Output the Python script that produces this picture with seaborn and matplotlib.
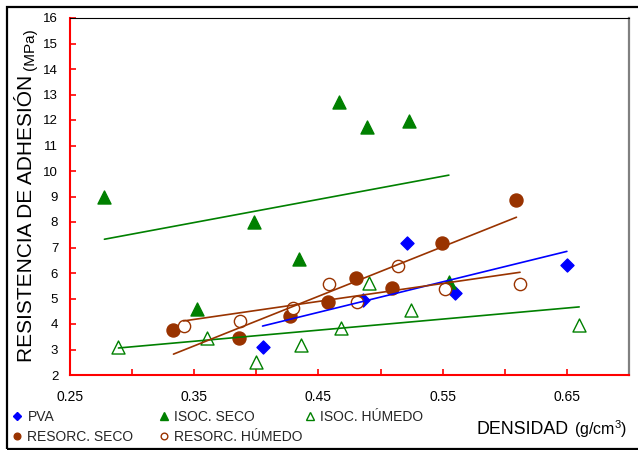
import matplotlib
matplotlib.use('Agg')
import matplotlib.pyplot as plt
import seaborn as sns
import numpy as np
from matplotlib.lines import Line2D
from matplotlib.patches import Rectangle

sns.set_theme(style='white')
plt.rcParams['font.family'] = ['Liberation Sans', 'DejaVu Sans']
plt.rcParams['mathtext.fontset'] = 'custom'
plt.rcParams['mathtext.rm'] = 'Liberation Sans'
plt.rcParams['mathtext.it'] = 'Liberation Sans:italic'

# ---- data ----
pva_x = [0.405, 0.486, 0.5215, 0.560, 0.650]
pva_y = [3.11, 4.94, 7.19, 5.20, 6.30]

isoc_seco_x = [0.2777, 0.3522, 0.3978, 0.4341, 0.4669, 0.489, 0.5228, 0.555]
isoc_seco_y = [8.99, 4.58, 7.99, 6.54, 12.69, 11.73, 11.97, 5.65]

isoc_hum_x = [0.289, 0.3605, 0.3998, 0.436, 0.4685, 0.4906, 0.5242, 0.6599]
isoc_hum_y = [3.09, 3.46, 2.50, 3.18, 3.85, 5.60, 4.55, 3.96]

resorc_seco_x = [0.3333, 0.3863, 0.4274, 0.4573, 0.4804, 0.5094, 0.5498, 0.6094]
resorc_seco_y = [3.76, 3.44, 4.33, 4.87, 5.82, 5.40, 7.19, 8.87]

resorc_hum_x = [0.3414, 0.3871, 0.4298, 0.4583, 0.4812, 0.514, 0.5519, 0.6123]
resorc_hum_y = [3.93, 4.13, 4.64, 5.57, 4.85, 6.27, 5.36, 5.57]

series_names = ['PVA', 'ISOC. SECO', 'ISOC. HÚMEDO', 'RESORC. SECO', 'RESORC. HÚMEDO']
x_tick_labels = ['0.25', '0.35', '0.45', '0.55', '0.65']
y_ticks = list(range(2, 17))

BLUE = '#0000FF'
GREEN = '#008000'
BROWN = '#993300'

styles = {
    'PVA': (BLUE, 'D', True, 44),
    'ISOC. SECO': (GREEN, '^', True, 88),
    'ISOC. HÚMEDO': (GREEN, '^', False, 88),
    'RESORC. SECO': (BROWN, 'o', True, 88),
    'RESORC. HÚMEDO': (BROWN, 'o', False, 78),
}
data = {
    'PVA': (pva_x, pva_y),
    'ISOC. SECO': (isoc_seco_x, isoc_seco_y),
    'ISOC. HÚMEDO': (isoc_hum_x, isoc_hum_y),
    'RESORC. SECO': (resorc_seco_x, resorc_seco_y),
    'RESORC. HÚMEDO': (resorc_hum_x, resorc_hum_y),
}

fig = plt.figure(figsize=(6.38, 4.5), dpi=100)
fig.patch.set_facecolor('white')
ax = fig.add_axes([70 / 638, 75 / 450, 559 / 638, 357 / 450])
ax.set_facecolor('white')

for name in series_names:
    c, m, filled, s = styles[name]
    x, y = data[name]
    sns.regplot(x=x, y=y, ax=ax, ci=None, truncate=True, color=c, marker=m,
                scatter_kws=dict(s=s, alpha=1, linewidths=1.0,
                                 facecolors=c if filled else 'white',
                                 edgecolors=c, zorder=2),
                line_kws=dict(lw=1.2, zorder=3))

ax.set_xlim(0.25, 0.70)
ax.set_ylim(2, 16)
ax.set_xlabel('')
ax.set_ylabel('')

major_x = [float(t) for t in x_tick_labels]
ax.set_xticks(major_x)
ax.set_xticklabels(x_tick_labels)
ax.set_xticks([v + 0.05 for v in major_x], minor=True)
ax.set_yticks(y_ticks)
ax.set_yticklabels([str(v) for v in y_ticks])

ax.tick_params(axis='both', which='both', direction='in', length=4, width=1.2,
               color='red', labelcolor='black', bottom=True, left=True,
               top=False, right=False)
ax.tick_params(axis='x', pad=11, labelsize=10)
ax.tick_params(axis='y', pad=8.5, labelsize=9.5)

for side in ['left', 'bottom']:
    ax.spines[side].set_color('red')
    ax.spines[side].set_linewidth(1.5)
ax.spines['top'].set_color('black')
ax.spines['top'].set_linewidth(0.8)
ax.spines['right'].set_color('#808080')
ax.spines['right'].set_linewidth(1.6)
for sp in ax.spines.values():
    sp.set_visible(True)

# axis titles
fig.text(32.5 / 638, (450 - 362) / 450, 'RESISTENCIA DE ADHESIÓN', rotation=90,
         rotation_mode='anchor', ha='left', va='baseline', fontsize=15, color='black')
fig.text(34.5 / 638, (450 - 70) / 450, '(MPa)', rotation=90,
         rotation_mode='anchor', ha='left', va='baseline', fontsize=11, color='black')
fig.text(476.5 / 638, (450 - 434.5) / 450, 'DENSIDAD', ha='left', va='baseline',
         fontsize=12.8, color='black')
fig.text(573.5 / 638, (450 - 434.5) / 450, r'(g/cm$^{\mathrm{3}}$)', ha='left',
         va='baseline', fontsize=11.5, color='black')


def handle(name):
    c, m, filled, _ = styles[name]
    ms = 4.2 if m == 'D' else (5.2 if m == '^' else 4.8)
    return Line2D([], [], ls='none', marker=m, color=c,
                  markerfacecolor=c if filled else 'white',
                  markeredgecolor=c, markersize=ms, markeredgewidth=1)


legend_cols = [
    (11.5, ['PVA', 'RESORC. SECO']),
    (158.5, ['ISOC. SECO', 'RESORC. HÚMEDO']),
    (304.5, ['ISOC. HÚMEDO']),
]
for xpos, names in legend_cols:
    fig.legend(handles=[handle(n) for n in names], labels=names,
               loc='upper left', bbox_to_anchor=(xpos / 638, (450 - 410) / 450),
               frameon=False, borderpad=0, borderaxespad=0, handlelength=0.8,
               handletextpad=0.35, labelspacing=0.45, fontsize=10)

# outer frame
rect = Rectangle((7 / 638, 1 / 450), 1.2, (443.3 - 1) / 450, transform=fig.transFigure,
                 fill=False, ec='black', lw=1.6, clip_on=False)
fig.add_artist(rect)

fig.savefig('out.png', dpi=100, facecolor='white')
